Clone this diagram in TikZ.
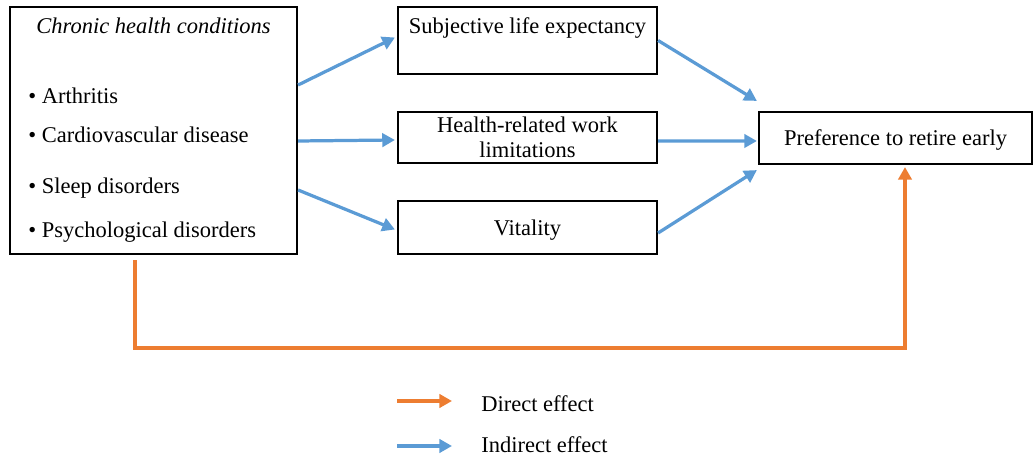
\documentclass[tikz,border=0pt]{standalone}
\usepackage{fontspec}
\setmainfont{Liberation Serif}
\usetikzlibrary{arrows.meta,positioning,calc}
\definecolor{effblue}{RGB}{91,155,213}
\definecolor{efforange}{RGB}{237,125,49}
\tikzset{
  box/.style={draw=black,line width=1.5pt,inner sep=0pt,minimum width=#1},
  box/.default=6.475cm,
  txt/.style={font=\fontsize{16}{18}\selectfont,align=center,inner sep=0pt,text depth=0pt},
  item/.style={font=\fontsize{16}{18}\selectfont,anchor=west,inner sep=0pt,text depth=0pt},
  indirect/.style={-{Triangle[length=9pt,width=9.5pt]},line width=2.3pt,draw=effblue},
  direct/.style={-{Triangle[length=9pt,width=9.5pt]},line width=2.3pt,draw=efforange},
}
\begin{document}
\begin{tikzpicture}[x=0.025cm,y=-0.025cm]
  \useasboundingbox (0,0) rectangle (1035,457);
  % boxes
  \node[box=7.175cm,minimum height=6.175cm] (cond) at (153.5,130.5) {};
  \node[txt,font=\fontsize{16}{18}\selectfont\itshape] (condt) at (153.5,26) {Chronic health conditions};
  \node[item] (i1) at (28,96) {\textbullet\ Arthritis};
  \node[item] (i2) at (28,135) {\textbullet\ Cardiovascular disease};
  \node[item] (i3) at (28,186) {\textbullet\ Sleep disorders};
  \node[item] (i4) at (28,230) {\textbullet\ Psychological disorders};
  \node[box,minimum height=1.675cm] (sle) at (527.5,40.5) {};
  \node[txt] (slet) at (527.5,26) {Subjective life expectancy};
  \node[box,minimum height=1.275cm,txt,font=\fontsize{16}{17.8}\selectfont] (hrw) at (527.5,137.5) {Health-related work\\limitations};
  \node[box,minimum height=1.325cm,txt] (vit) at (527.5,227.5) {Vitality};
  \node[box=6.825cm,minimum height=1.3cm,txt] (pref) at (895.5,138) {Preference to retire early};
  % indirect paths
  \draw[indirect] ($(cond.east)+(0,-45.5)$) -- ($(sle.west)+(-2,-3)$);
  \draw[indirect] ($(cond.east)+(0,10.5)$) -- ($(hrw.west)+(-2,2.5)$);
  \draw[indirect] ($(cond.east)+(0,59.5)$) -- ($(vit.west)+(-2,2)$);
  \draw[indirect] (sle.east) -- ($(pref.north west)+(-1,-10)$);
  \draw[indirect] ($(hrw.east)+(0,3.5)$) -- ($(pref.west)+(-1,3)$);
  \draw[indirect] ($(vit.east)+(0,5.5)$) -- ($(pref.south west)+(-1,5)$);
  % direct path
  \draw[direct] ($(cond.south)+(-18.5,5)$) |- ($(cond.south)+(-18.5,93)$) -| ($(pref.south)+(9.5,2)$);
  % legend
  \coordinate (ld1) at (397,401);
  \coordinate (ld2) at (452,401);
  \coordinate (li1) at (397,446);
  \coordinate (li2) at (452,446);
  \draw[direct] (ld1) -- (ld2);
  \draw[indirect] (li1) -- (li2);
  \node[item] (ldt) at (481,404) {Direct effect};
  \node[item] (lit) at (481,445) {Indirect effect};
\end{tikzpicture}
\end{document}
